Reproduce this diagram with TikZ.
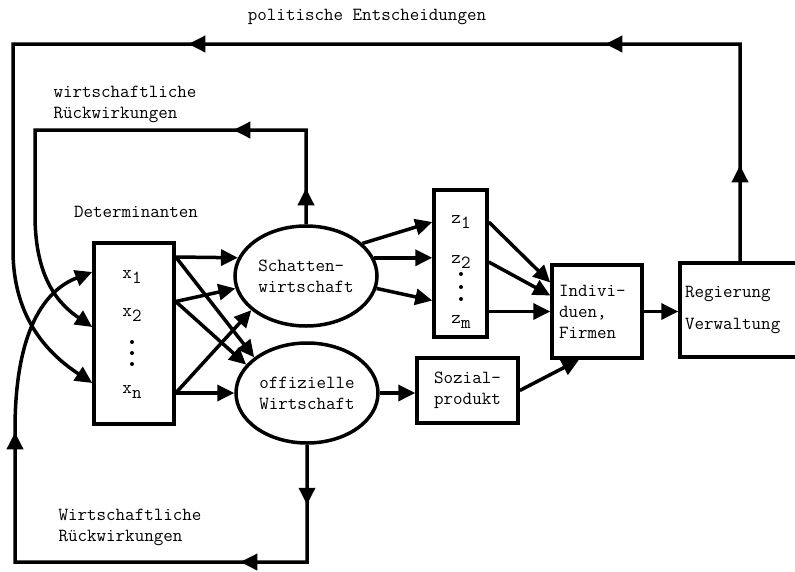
\documentclass[tikz,border=0pt]{standalone}
\usetikzlibrary{shapes.geometric,arrows.meta,decorations.markings}
\tikzset{
  box/.style={draw,rectangle,line width=3.5pt,inner sep=0pt},
  oval/.style={draw,ellipse,line width=3.5pt,inner sep=0pt,minimum width=142pt,minimum height=100pt,align=left},
  pfeil/.style={line width=3.5pt,-{Triangle[length=17pt,width=16pt]}},
  arrowat/.style={postaction={decorate,decoration={markings,mark=at position #1 with {\arrow{Triangle[length=17pt,width=16pt]}}}}},
}
\newcommand\idx[2]{#1\raisebox{-.6ex}{#2}}
\begin{document}
\begin{tikzpicture}[x=1pt,y=-1pt,font=\ttfamily\fontsize{18.5}{21}\selectfont]
\useasboundingbox (0,0) rectangle (795,571);
% Kaesten und Ellipsen
\node[box,minimum width=80pt,minimum height=181pt] (xbox) at (134,333.5) {};
\node[oval] (schatten) at (306,276) {Schatten-\\wirtschaft};
\node[oval] (offiziell) at (307,393) {offizielle\\Wirtschaft};
\node[box,minimum width=53pt,minimum height=147pt] (zbox) at (460.5,263.5) {};
\node[box,minimum width=101pt,minimum height=65pt,align=center] (sozial) at (467.5,390.5) {Sozial-\\produkt};
\node[box,minimum height=93pt,text width=76pt,inner xsep=7pt,align=left] (indiv) at (597,311.5) {Indivi-\\duen,\\Firmen};
\node[box,minimum height=94pt,text width=110pt,inner xsep=5pt,align=left] (reg) at (740,310) {Regierung\\[11pt]Verwaltung};
% Variablen
\node (x1) at (132,277) {\idx{x}{1}};
\node (x2) at (132,315) {\idx{x}{2}};
\node (xn) at (132,392) {\idx{x}{n}};
\foreach \y in {342,353,364} \fill (132,\y) circle (2);
\node (z1) at (461,222) {\idx{z}{1}};
\node (z2) at (461,262) {\idx{z}{2}};
\node (zm) at (461,322) {\idx{z}{m}};
\foreach \y in {274,287,299} \fill (461,\y) circle (2);
% Beschriftungen
\node (politik) at (367,17) {politische Entscheidungen};
\node[align=left,anchor=west] (rueck1) at (50,104) {wirtschaftliche\\Rückwirkungen};
\node (determ) at (136,212) {Determinanten};
\node[align=left,anchor=west] (rueck2) at (55,527) {Wirtschaftliche\\Rückwirkungen};
% Determinanten -> Schatten-/offizielle Wirtschaft
\coordinate (xa) at ([yshift=76.5]xbox.east);
\coordinate (xb) at ([yshift=32]xbox.east);
\coordinate (xc) at (xbox.east |- offiziell.west);
\draw[pfeil] (xa) -- (schatten.165);
\draw[pfeil] (xa) -- (offiziell.146);
\draw[pfeil] (xb) -- (schatten.190);
\draw[pfeil] (xb) -- (offiziell.155);
\draw[pfeil] (xc) -- (schatten.212);
\draw[pfeil] (xc) -- (offiziell.west);
% Schattenwirtschaft -> z
\draw[pfeil] (schatten.30) -- (zbox.west |- z1);
\draw[pfeil] (schatten.15) -- (schatten.15 -| zbox.west);
\draw[pfeil] (schatten.-10) -- ([yshift=-37]zbox.west);
% z -> Individuen
\draw[pfeil] (zbox.east |- z1) -- ([yshift=29]indiv.west);
\draw[pfeil] (zbox.east |- z2) -- ([yshift=16]indiv.west);
\draw[pfeil] (indiv.west -| zbox.east) -- (indiv.west);
% offizielle Wirtschaft -> Sozialprodukt -> Individuen -> Regierung
\draw[pfeil] (offiziell.east) -- (offiziell.east -| sozial.west);
\draw[pfeil] (sozial.east) -- ([xshift=-18]indiv.south);
\draw[pfeil] (indiv.east) -- (indiv.east -| reg.west);
% Rueckkopplungen
\draw[pfeil,arrowat=96pt,arrowat=352pt,arrowat=769pt] (reg.north) -- (reg.north |- 0,44) -- (13,44) -- (13,250)
  .. controls (13,320) and (50,355) .. ([yshift=-49.5]xbox.west);
\draw[pfeil,arrowat=36pt,arrowat=167pt] (schatten.north) -- (schatten.north |- 0,130) -- (35,130) -- (35,215)
  .. controls (35,280) and (60,305) .. ([yshift=6.5]xbox.west);
\draw[pfeil,arrowat=60pt,arrowat=184pt,arrowat=539pt] (offiziell.south) -- (offiziell.south |- 0,562) -- (15,562) -- (15,430)
  .. controls (15,330) and (45,290) .. ([yshift=61.5]xbox.west);
\end{tikzpicture}
\end{document}
